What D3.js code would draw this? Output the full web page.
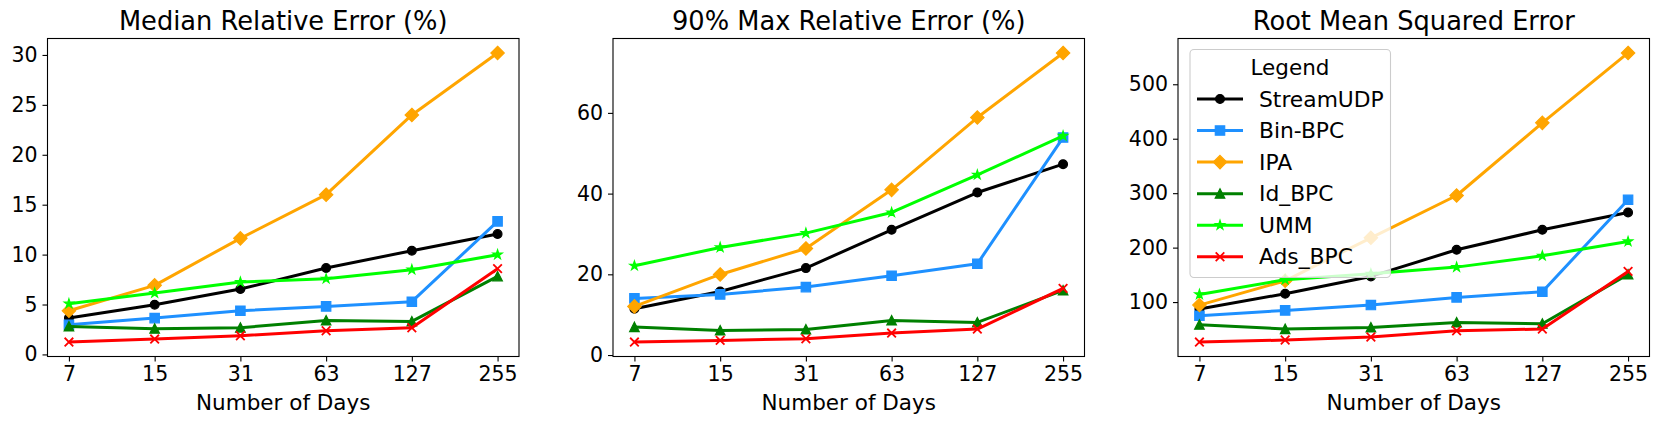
<!DOCTYPE html>
<html><head><meta charset="utf-8">
<script src="https://cdn.jsdelivr.net/npm/d3@7"></script>
<style>body{margin:0;background:#fff} text{font-family:"DejaVu Sans",sans-serif;fill:#000}</style></head>
<body><svg id="c" width="1661" height="425"></svg>
<script>
// ---- data ----
const days = ["7", "15", "31", "63", "127", "255"];
const seriesNames = ["StreamUDP", "Bin-BPC", "IPA", "Id_BPC", "UMM", "Ads_BPC"];
const panelTitles = ["Median Relative Error (%)", "90% Max Relative Error (%)", "Root Mean Squared Error"];
const xLabel = "Number of Days";
const legendTitle = "Legend";

// Median Relative Error (%)
const medStreamUDP = [3.64, 4.98, 6.55, 8.65, 10.39, 12.06];
const medBinBPC    = [2.97, 3.64, 4.38, 4.81, 5.28, 13.33];
const medIPA       = [4.38, 6.92, 11.63, 16.0, 23.99, 30.2];
const medIdBPC     = [2.80, 2.57, 2.67, 3.41, 3.31, 7.82];
const medUMM       = [5.08, 6.15, 7.25, 7.58, 8.49, 9.99];
const medAdsBPC    = [1.24, 1.54, 1.87, 2.37, 2.67, 8.59];
const medTicks = [0, 5, 10, 15, 20, 25, 30];

// 90% Max Relative Error (%)
const maxStreamUDP = [11.47, 15.76, 21.54, 31.03, 40.27, 47.29];
const maxBinBPC    = [14.03, 15.02, 16.84, 19.64, 22.61, 53.89];
const maxIPA       = [12.05, 19.97, 26.41, 40.93, 58.84, 74.85];
const maxIdBPC     = [6.93, 6.11, 6.35, 8.58, 8.09, 16.01];
const maxUMM       = [22.12, 26.66, 30.21, 35.32, 44.65, 54.3];
const maxAdsBPC    = [3.22, 3.63, 4.04, 5.45, 6.44, 16.5];
const maxTicks = [0, 20, 40, 60];

// Root Mean Squared Error
const rmseStreamUDP = [87.2, 115.3, 147.1, 196.0, 232.7, 264.5];
const rmseBinBPC    = [74.9, 84.7, 94.5, 108.6, 119.0, 287.8];
const rmseIPA       = [94.5, 139.1, 218.0, 295.7, 429.1, 557.5];
const rmseIdBPC     = [58.4, 50.5, 53.5, 62.7, 60.2, 150.8];
const rmseUMM       = [114.1, 141.0, 152.0, 164.2, 185.0, 211.3];
const rmseAdsBPC    = [26.6, 30.3, 35.8, 47.4, 50.5, 156.3];
const rmseTicks = [100, 200, 300, 400, 500];

const panelData = [
  [medStreamUDP, medBinBPC, medIPA, medIdBPC, medUMM, medAdsBPC],
  [maxStreamUDP, maxBinBPC, maxIPA, maxIdBPC, maxUMM, maxAdsBPC],
  [rmseStreamUDP, rmseBinBPC, rmseIPA, rmseIdBPC, rmseUMM, rmseAdsBPC]
];
const panelTicks = [medTicks, maxTicks, rmseTicks];

// ---- styles ----
const colors = ["#000000", "#1E90FF", "#FFA500", "#008000", "#00FF00", "#FF0000"];
const markers = ["circle", "square", "diamond", "triangle", "star", "x"];
const panelLefts = [47.5, 613, 1178];
const axW = 471.5, axTop = 38.5, axBottom = 356.5;

function markerPath(type) {
  const p = d3.path();
  if (type === "circle") { p.arc(0, 0, 4.4, 0, 2 * Math.PI); }
  else if (type === "square") { p.rect(-4.7, -4.7, 9.4, 9.4); }
  else if (type === "diamond") { p.moveTo(0, -6.7); p.lineTo(6.7, 0); p.lineTo(0, 6.7); p.lineTo(-6.7, 0); p.closePath(); }
  else if (type === "triangle") { p.moveTo(0, -4.9); p.lineTo(4.8, 4.5); p.lineTo(-4.8, 4.5); p.closePath(); }
  else if (type === "star") {
    const R = 4.9, r = R * 0.382;
    for (let i = 0; i < 10; i++) {
      const a = -Math.PI / 2 + i * Math.PI / 5, rr = i % 2 ? r : R;
      const x = rr * Math.cos(a), y = rr * Math.sin(a);
      i ? p.lineTo(x, y) : p.moveTo(x, y);
    }
    p.closePath();
  }
  else if (type === "x") { p.moveTo(-4.3, -4.3); p.lineTo(4.3, 4.3); p.moveTo(-4.3, 4.3); p.lineTo(4.3, -4.3); }
  return p.toString();
}
function drawMarker(g, type, color, x, y) {
  g.append("path").attr("d", markerPath(type)).attr("transform", `translate(${x},${y})`)
    .attr("fill", type === "x" ? "none" : color).attr("stroke", color)
    .attr("stroke-width", type === "x" ? 1.8 : 1.2).attr("stroke-linejoin", "miter");
}

const svg = d3.select("#c");
svg.append("rect").attr("width", 1661).attr("height", 425).attr("fill", "#fff");

panelData.forEach((series, pi) => {
  const left = panelLefts[pi];
  // matplotlib-like 5% margins: a quarter step of padding on each side
  const x = d3.scalePoint().domain(days).range([left, left + axW]).padding(0.25);
  const all = series.flat();
  const mn = d3.min(all), mx = d3.max(all), m = (mx - mn) * 0.05;
  const y = d3.scaleLinear().domain([mn - m, mx + m]).range([axBottom, axTop]);

  const g = svg.append("g");
  g.append("text").attr("x", left + axW / 2).attr("y", 29.5).attr("text-anchor", "middle")
    .style("font-size", "25.7px").text(panelTitles[pi]);
  const line = d3.line().x((d, i) => x(days[i])).y(d => y(d));
  series.forEach((vals, si) => {
    g.append("path").datum(vals).attr("d", line).attr("fill", "none")
      .attr("stroke", colors[si]).attr("stroke-width", 3).attr("stroke-linejoin", "round");
    vals.forEach((v, i) => drawMarker(g, markers[si], colors[si], x(days[i]), y(v)));
  });
  const xa = g.append("g").attr("transform", `translate(0,${axBottom})`)
    .call(d3.axisBottom(x).tickSize(5).tickPadding(5));
  const ya = g.append("g").attr("transform", `translate(${left},0)`)
    .call(d3.axisLeft(y).tickValues(panelTicks[pi]).tickFormat(d3.format("d")).tickSize(5).tickPadding(5));
  [xa, ya].forEach(a => {
    a.select(".domain").remove();
    a.selectAll("line").attr("stroke", "#000").attr("stroke-width", 1.1);
    a.selectAll("text").style("font-size", "20.5px").style("font-family", '"DejaVu Sans",sans-serif').attr("fill", "#000");
  });
  g.append("rect").attr("x", left).attr("y", axTop).attr("width", axW).attr("height", axBottom - axTop)
    .attr("fill", "none").attr("stroke", "#000").attr("stroke-width", 1.1);
  g.append("text").attr("x", left + axW / 2).attr("y", 409.5).attr("text-anchor", "middle")
    .style("font-size", "21.5px").text(xLabel);

  if (pi === 2) {
    const lg = svg.append("g");
    lg.append("rect").attr("x", 1190).attr("y", 49.5).attr("width", 200.5).attr("height", 228)
      .attr("rx", 4).attr("fill", "rgba(255,255,255,0.8)").attr("stroke", "#cccccc").attr("stroke-width", 1.1);
    lg.append("text").attr("x", 1290).attr("y", 67.5).attr("dy", "0.35em").attr("text-anchor", "middle")
      .style("font-size", "21.5px").text(legendTitle);
    seriesNames.forEach((name, si) => {
      const cy = 99 + si * 31.55;
      lg.append("line").attr("x1", 1197).attr("x2", 1243).attr("y1", cy).attr("y2", cy)
        .attr("stroke", colors[si]).attr("stroke-width", 3);
      drawMarker(lg, markers[si], colors[si], 1220, cy);
      lg.append("text").attr("x", 1259).attr("y", cy).attr("dy", "0.35em")
        .style("font-size", "21.8px").text(name);
    });
  }
});
</script>
</body></html>
